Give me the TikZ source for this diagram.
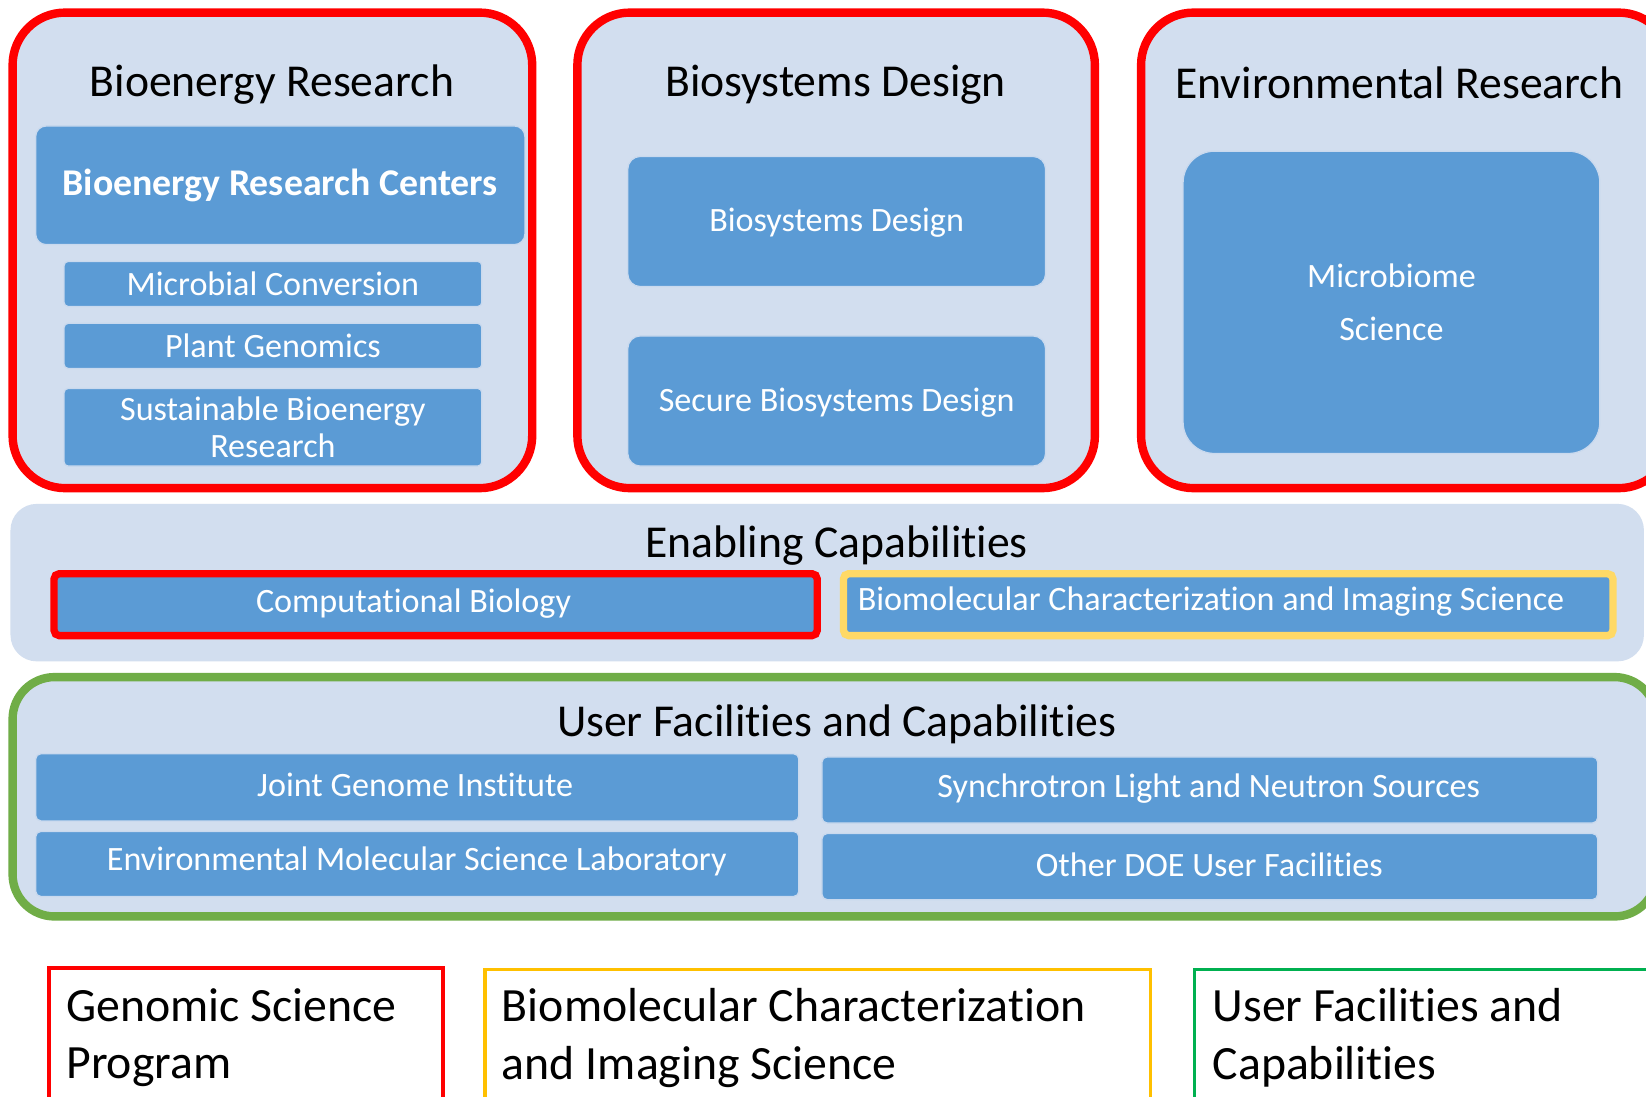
\documentclass[tikz,border=0pt]{standalone}
\usepackage{fontspec}
\setmainfont{Carlito}[Ligatures=NoCommon]
\definecolor{panelfill}{HTML}{D2DEEF}
\definecolor{boxblue}{HTML}{5B9BD5}
\definecolor{boxedge}{HTML}{C9D9EE}
\definecolor{pred}{HTML}{FF0000}
\definecolor{pyellow}{HTML}{FFD966}
\definecolor{pgreen}{HTML}{70AD47}
\definecolor{lyellow}{HTML}{FFC000}
\definecolor{lgreen}{HTML}{00B050}
\tikzset{
  panel/.style={fill=panelfill, draw=pred, line width=8pt, rounded corners=50pt, inner sep=0pt},
  bbox/.style={fill=boxblue, draw=boxedge, line width=1.2pt, text=white, inner sep=0pt,
               font=\fontsize{32.5}{35}\selectfont, align=center},
  wtxt/.style={text=white, inner sep=0pt, font=\fontsize{32.5}{35}\selectfont},
  ttl/.style={font=\fontsize{43.5}{50}\selectfont, inner sep=0pt},
  legtxt/.style={font=\fontsize{45.5}{55}\selectfont, align=left, inner sep=0pt, anchor=west},
  legbox/.style={fill=none, inner sep=0pt, anchor=north west, minimum height=200pt}
}
\begin{document}
\begin{tikzpicture}[x=1pt,y=-1pt]
\useasboundingbox (0,0) rectangle (1568,1045);
\clip (0,0) rectangle (1568,1045);
\fill[white] (0,0) rectangle (1568,1045);

% top panels
\node[panel, minimum width=495pt, minimum height=453pt] (bioP) at (259.5,238.5) {};
\node[panel, minimum width=493pt, minimum height=453pt] (bsP) at (796.5,238.5) {};
\node[panel, minimum width=505pt, minimum height=453pt] (envP) at (1339.5,238.5) {};

\node[ttl] (bioT) at (259,81) {Bioenergy Research};
\node[ttl] (bsT) at (796,81) {Biosystems Design};
\node[ttl] (envT) at (1333,79) {Environmental Research};

\node[bbox, rounded corners=10pt, minimum width=466pt, minimum height=113pt,
      font=\bfseries\fontsize{36}{40}\selectfont] (brc) at (267,176.5) {Bioenergy Research Centers};
\node[bbox, rounded corners=4pt, minimum width=398pt, minimum height=43pt] (mc) at (260,270.5) {Microbial Conversion};
\node[bbox, rounded corners=4pt, minimum width=398pt, minimum height=43pt] (pg) at (260,329.5) {Plant Genomics};
\node[bbox, rounded corners=4pt, minimum width=398pt, minimum height=74pt] (sbr) at (260,407) {Sustainable Bioenergy\\Research};

\node[bbox, rounded corners=12pt, minimum width=398pt, minimum height=124pt] (bsd) at (797,211) {};
\node[wtxt] (bsdT) at (797,212) {Biosystems Design};
\node[bbox, rounded corners=12pt, minimum width=398pt, minimum height=124pt] (sbd) at (797,382) {};
\node[wtxt] (sbdT) at (797,384) {Secure Biosystems Design};

\node[bbox, rounded corners=30pt, minimum width=397pt, minimum height=288pt,
      font=\fontsize{32.5}{50}\selectfont] (mbs) at (1325.5,288) {Microbiome\\Science};

% enabling capabilities
\node[fill=panelfill, rounded corners=25pt, minimum width=1556pt, minimum height=150pt, inner sep=0pt] (enP) at (788,555) {};
\node[ttl] (enT) at (797,520) {Enabling Capabilities};
\node[bbox, draw=pred, line width=7pt, rounded corners=5pt, minimum width=727pt, minimum height=59pt] (cb) at (415,576) {};
\node[wtxt] (cbT) at (394,575) {Computational Biology};
\node[bbox, draw=pyellow, line width=7pt, rounded corners=5pt, minimum width=733pt, minimum height=59pt] (bcis) at (1170,576) {};
\node[wtxt, anchor=west] (bcisT) at (817,573) {Biomolecular Characterization and Imaging Science};

% user facilities
\node[panel, draw=pgreen, rounded corners=40pt, minimum width=1566pt, minimum height=228pt] (ufP) at (795,759) {};
\node[ttl] (ufT) at (797,690) {User Facilities and Capabilities};
\node[bbox, rounded corners=5pt, minimum width=727pt, minimum height=64pt] (jgi) at (397.5,750) {};
\node[wtxt] (jgiT) at (395.5,748) {Joint Genome Institute};
\node[bbox, rounded corners=5pt, minimum width=727pt, minimum height=62pt] (emsl) at (397.5,823) {};
\node[wtxt] (emslT) at (397,821) {Environmental Molecular Science Laboratory};
\node[bbox, rounded corners=5pt, minimum width=739pt, minimum height=63pt] (sln) at (1152.5,752.5) {};
\node[wtxt] (slnT) at (1151.5,751) {Synchrotron Light and Neutron Sources};
\node[bbox, rounded corners=5pt, minimum width=739pt, minimum height=63pt] (odoe) at (1152.5,825.5) {};
\node[wtxt] (odoeT) at (1152,823.5) {Other DOE User Facilities};

% legend
\node[legbox, draw=pred, line width=4pt, minimum width=375pt] (lg1) at (45,920) {};
\node[legtxt] (lg1T) at (63,988.5) {Genomic Science\\Program};
\node[legbox, draw=lyellow, line width=3pt, minimum width=634pt] (lg2) at (460.5,922) {};
\node[legtxt] (lg2T) at (478,988.5) {Biomolecular Characterization\\and Imaging Science};
\node[legbox, draw=lgreen, line width=3pt, minimum width=500pt] (lg3) at (1136.5,922) {};
\node[legtxt] (lg3T) at (1155,988.5) {User Facilities and\\Capabilities};
\end{tikzpicture}
\end{document}
